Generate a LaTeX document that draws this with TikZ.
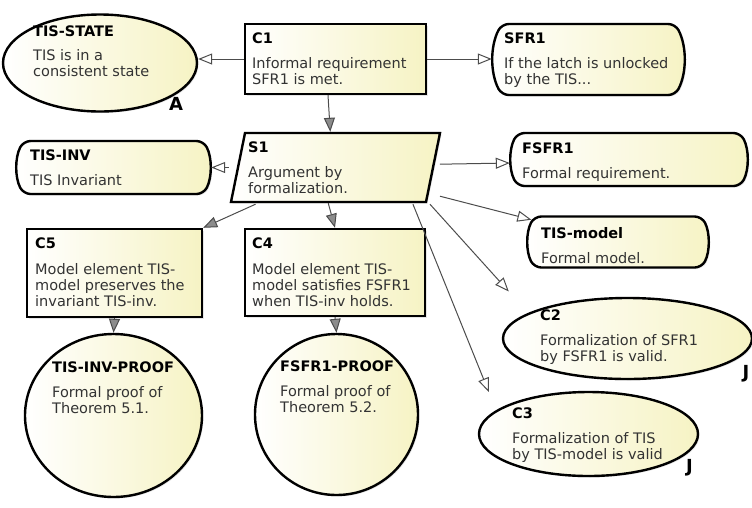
\documentclass[tikz,border=0pt]{standalone}
\usepackage{fontspec}
\setmainfont{DejaVu Sans}
\usetikzlibrary{arrows.meta,calc,shapes.geometric,shapes.misc,shadows}
\definecolor{gsnyellow}{RGB}{246,243,196}
\definecolor{gsngray}{RGB}{51,51,51}
\newcommand{\gsntitle}[1]{\textcolor{black}{\bfseries #1}}
\tikzset{
  gsnshape/.style={
    draw=black,
    line width=2.4pt,
    left color=white,
    right color=gsnyellow,
    drop shadow={shadow xshift=1.5pt, shadow yshift=-1.5pt, opacity=0.2},
    inner sep=0pt
  },
  goalbox/.style={gsnshape, rectangle},
  ctxbox/.style={gsnshape, rounded rectangle, rounded rectangle arc length=55, rounded corners=7pt},
  strategybox/.style={gsnshape, rectangle, xslant=0.203, transform shape},
  ovalbox/.style={gsnshape, ellipse},
  gsntxt/.style={
    anchor=north west,
    inner sep=0pt,
    align=left,
    text=gsngray,
    font=\fontsize{14.5}{16}\selectfont
  },
  gsnmark/.style={
    anchor=base,
    inner sep=0pt,
    font=\fontsize{18}{18}\selectfont\bfseries
  },
  ctxarrow/.style={
    -{Triangle[open, length=14pt, width=11pt]},
    line width=1pt,
    draw=black!70
  },
  supparrow/.style={
    -{Triangle[length=14pt, width=11pt, fill=black!45]},
    line width=1pt,
    draw=black!70
  }
}

\begin{document}
\begin{tikzpicture}[x=1pt, y=-1pt]
  \useasboundingbox (0,0) rectangle (752,507);

  % shapes
  \node[ovalbox, minimum width=194, minimum height=97] (tisstate) at (100,63) {};
  \node[goalbox, minimum width=181, minimum height=70] (c1) at (335.5,59) {};
  \node[ctxbox, minimum width=191, minimum height=71] (sfr1) at (588.5,59.5) {};
  \node[ctxbox, minimum width=193, minimum height=53] (tisinv) at (113.5,167.5) {};
  \node[shift={(335.5,167.5)}, strategybox, minimum width=195, minimum height=69] (s1) at (0,0) {};
  \node[ctxbox, minimum width=236, minimum height=53] (fsfr1) at (629,159.5) {};
  \node[ctxbox, minimum width=180, minimum height=51] (tismodel) at (618,242) {};
  \node[goalbox, minimum width=175, minimum height=88] (c5) at (114.5,273) {};
  \node[goalbox, minimum width=180, minimum height=87] (c4) at (335,272.5) {};
  \node[ovalbox, minimum width=177, minimum height=163] (tisinvproof) at (113.5,415.5) {};
  \node[ovalbox, minimum width=163, minimum height=161] (fsfr1proof) at (336.5,414.5) {};
  \node[ovalbox, minimum width=249, minimum height=81] (c2) at (627.5,338.5) {};
  \node[ovalbox, minimum width=219, minimum height=84] (c3) at (588.5,434) {};

  % texts
  \node[gsntxt] (tisstate-txt) at (33,26) {\gsntitle{TIS-STATE}\\[8pt]TIS is in a\\consistent state};
  \node[gsntxt] (c1-txt) at (252,33) {\gsntitle{C1}\\[9pt]Informal requirement\\SFR1 is met.};
  \node[gsntxt] (sfr1-txt) at (504,33) {\gsntitle{SFR1}\\[9pt]If the latch is unlocked\\by the TIS...};
  \node[gsntxt] (tisinv-txt) at (30,150) {\gsntitle{TIS-INV}\\[9pt]TIS Invariant};
  \node[gsntxt] (s1-txt) at (248,142) {\gsntitle{S1}\\[9pt]Argument by\\formalization.};
  \node[gsntxt] (fsfr1-txt) at (522,143) {\gsntitle{FSFR1}\\[9pt]Formal requirement.};
  \node[gsntxt] (tismodel-txt) at (541,227) {\gsntitle{TIS-model}\\[9pt]Formal model.};
  \node[gsntxt] (c5-txt) at (35,238) {\gsntitle{C5}\\[10pt]Model element TIS-\\model preserves the\\invariant TIS-inv.};
  \node[gsntxt] (c4-txt) at (252,238) {\gsntitle{C4}\\[10pt]Model element TIS-\\model satisfies FSFR1\\when TIS-inv holds.};
  \node[gsntxt] (tisinvproof-txt) at (52,362) {\gsntitle{TIS-INV-PROOF}\\[9pt]Formal proof of\\Theorem 5.1.};
  \node[gsntxt] (fsfr1proof-txt) at (280,361) {\gsntitle{FSFR1-PROOF}\\[9pt]Formal proof of\\Theorem 5.2.};
  \node[gsntxt] (c2-txt) at (540,310) {\gsntitle{C2}\\[9pt]Formalization of SFR1\\by FSFR1 is valid.};
  \node[gsntxt] (c3-txt) at (512,408) {\gsntitle{C3}\\[9pt]Formalization of TIS\\by TIS-model is valid};

  % assumption / justification marks
  \node[gsnmark] (tisstate-mark) at (176,110) {A};
  \node[gsnmark] (c2-mark) at (746,378) {J};
  \node[gsnmark] (c3-mark) at (689.5,472) {J};

  % connectors
  \draw[ctxarrow] (c1.west) -- (c1.west -| tisstate.east);
  \draw[ctxarrow] (c1.east) -- (c1.east -| sfr1.west);
  \draw[supparrow] ($(c1.south)+(-7.5,0)$) -- ($(s1.north)+(-12.5,0)$);
  \draw[ctxarrow, shorten <=8pt] (s1.west) -- (tisinv.east);
  \draw[ctxarrow] ($(s1.south east)+(13,-39)$) -- ($(fsfr1.west)+(0,3.5)$);
  \draw[ctxarrow] ($(s1.south east)+(13,-7)$) -- (tismodel);
  \draw[ctxarrow] ($(s1.south east)+(3,1)$) -- ($(c2.west)+(7,-47)$);
  \draw[ctxarrow] ($(s1.south east)+(-14,1)$) -- ($(c3.west)+(11,-42)$);
  \draw[supparrow] ($(s1.south west)+(26,1)$) -- (c5.north east);
  \draw[supparrow] (s1.south) -- (c4.north);
  \draw[supparrow] (c5.south) -- (tisinvproof.north);
  \draw[supparrow] (c4.south) -- (fsfr1proof.north);
\end{tikzpicture}
\end{document}
